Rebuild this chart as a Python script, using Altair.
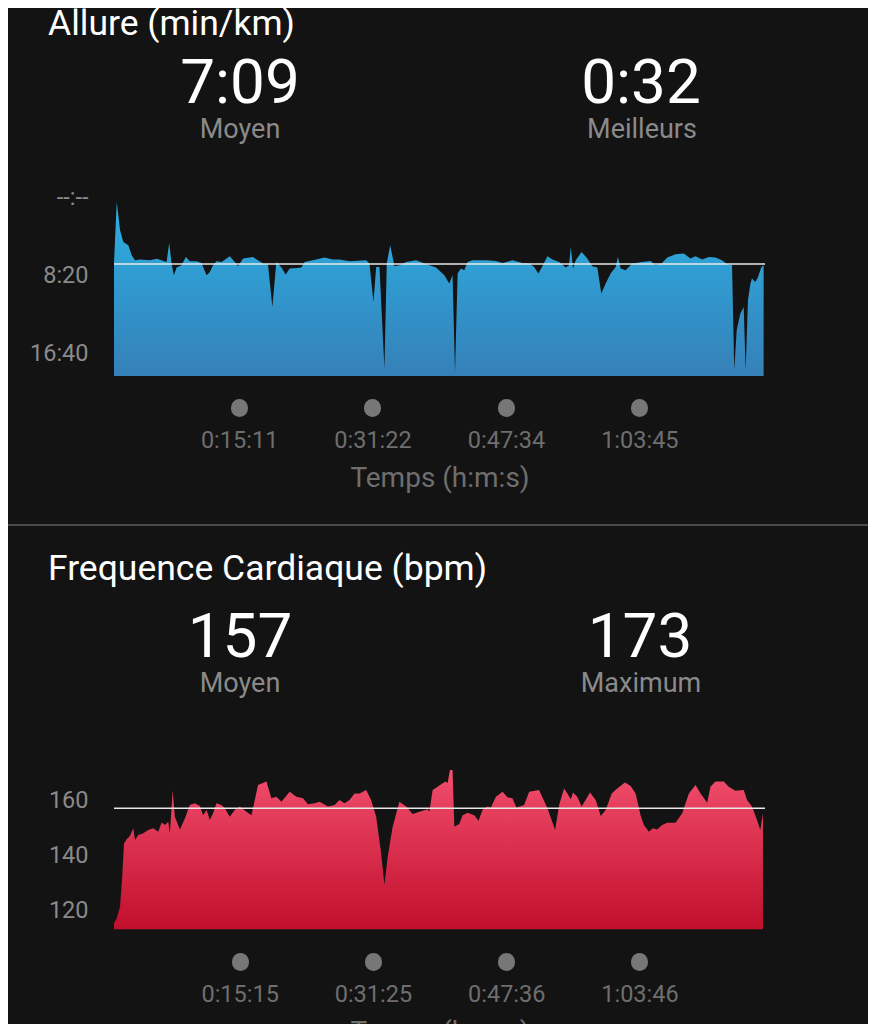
import altair as alt
import pandas as pd

# ---------------- data ----------------
pace_time_s = [0, 20, 44, 68, 104, 129, 153, 189, 262, 312,
               383, 402, 419, 436, 456, 492, 523, 552, 601, 637,
               674, 698, 721, 746, 783, 843, 879, 903, 940, 1012,
               1048, 1085, 1121, 1153, 1182, 1219, 1250, 1279, 1328, 1364,
               1388, 1448, 1533, 1593, 1642, 1715, 1836, 1860, 1889, 1909,
               1933, 1969, 1986, 2011, 2042, 2078, 2127, 2199, 2296, 2345,
               2405, 2441, 2465, 2483, 2502, 2526, 2550, 2574, 2611, 2708,
               2781, 2829, 2901, 2974, 3023, 3059, 3090, 3119, 3156, 3192,
               3241, 3289, 3313, 3326, 3342, 3362, 3405, 3446, 3483, 3519,
               3548, 3580, 3616, 3653, 3669, 3689, 3725, 3773, 3846, 3907,
               3943, 3991, 4028, 4089, 4149, 4198, 4234, 4282, 4331, 4379,
               4427, 4464, 4500, 4516, 4534, 4561, 4585, 4599, 4616, 4634,
               4645, 4670, 4689, 4713, 4730]
pace_s_per_km = [420, 32, 213, 288, 309, 373, 405, 400, 405, 395,
                 416, 294, 424, 501, 452, 437, 384, 411, 411, 422,
                 501, 480, 437, 411, 416, 379, 416, 443, 394, 384,
                 405, 426, 431, 704, 416, 452, 496, 458, 454, 452,
                 416, 405, 388, 400, 400, 411, 405, 426, 672, 448,
                 448, 1098, 426, 309, 443, 437, 416, 405, 437, 452,
                 501, 554, 501, 1120, 490, 458, 469, 416, 405, 405,
                 409, 422, 405, 422, 426, 448, 490, 443, 379, 400,
                 416, 452, 437, 320, 458, 405, 352, 394, 443, 452,
                 618, 554, 490, 448, 384, 458, 469, 426, 416, 409,
                 437, 422, 388, 366, 362, 394, 379, 400, 384, 388,
                 405, 431, 437, 1109, 853, 744, 704, 1109, 661, 554,
                 522, 544, 512, 450, 437]

hr_time_s = [0, 20, 44, 60, 73, 92, 116, 140, 153, 177,
             213, 249, 286, 322, 347, 371, 395, 407, 427, 443,
             480, 516, 552, 589, 625, 649, 674, 698, 721, 746,
             783, 807, 843, 879, 916, 964, 1001, 1025, 1049, 1110,
             1146, 1182, 1219, 1279, 1328, 1376, 1412, 1461, 1497, 1558,
             1606, 1642, 1679, 1715, 1751, 1788, 1836, 1872, 1909, 1945,
             1969, 1993, 2029, 2078, 2127, 2175, 2223, 2284, 2296, 2320,
             2356, 2393, 2417, 2429, 2446, 2465, 2478, 2514, 2538, 2574,
             2623, 2654, 2683, 2720, 2744, 2781, 2829, 2865, 2901, 2930,
             2986, 3023, 3095, 3156, 3212, 3241, 3277, 3301, 3326, 3342,
             3373, 3405, 3466, 3507, 3544, 3580, 3624, 3664, 3720, 3762,
             3798, 3834, 3858, 3895, 3924, 3955, 3991, 4028, 4089, 4137,
             4186, 4234, 4271, 4319, 4343, 4379, 4440, 4476, 4525, 4585,
             4609, 4645, 4682, 4706, 4725]
hr_bpm = [115.2, 117, 121.2, 132.1, 144.2, 145.7, 146.9, 149.7, 145.5, 147.3,
          147.9, 149.1, 149.7, 148.5, 151.8, 150.9, 152.1, 147.9, 163.4, 153.9,
          149.3, 153.3, 158.2, 158.8, 157.8, 154.5, 156.4, 152.7, 155.2, 158.8,
          158.2, 157, 153.9, 156.4, 157.6, 155.7, 154.5, 160, 165.5, 166.7,
          160.6, 161.2, 159.4, 163, 161.2, 160.6, 158.5, 158.8, 159.4, 157.6,
          158.2, 160, 158.8, 160, 162.4, 162.4, 163.6, 160, 153.9, 140.6,
          129.1, 139.4, 150.3, 159.4, 157.6, 154.9, 155.7, 156.6, 155.7, 163.6,
          164.8, 166.1, 166.7, 166.1, 170.9, 170.9, 150.3, 151.3, 154.5, 155.4,
          154.5, 152.5, 156.4, 157.6, 157.3, 161.2, 163, 161, 160.6, 157.3,
          158.2, 163, 163.6, 157, 149.1, 158.2, 164.2, 162.4, 160.3, 162.7,
          161.2, 157.6, 162.7, 160, 154.2, 156.4, 162.4, 164.2, 166.4, 165.1,
          162.4, 154.5, 150.9, 148.5, 149.7, 149.3, 150.9, 151.7, 151.7, 155.2,
          162.4, 165.5, 162.4, 159, 164.8, 166.7, 166.7, 164.8, 163.4, 163.6,
          160, 157.6, 152.7, 149.1, 155.2]

pace_avg_s = 429          # 7:09
hr_avg_bpm = 157
duration_s = 4740
pace_floor_s = 1146
hr_floor_bpm = 113
hr_ceiling_bpm = 180

pace_y_ticks = [0, 500, 1000]
pace_y_labels = ["--:--", "8:20", "16:40"]
hr_y_ticks = [120, 140, 160]
hr_y_labels = ["120", "140", "160"]
pace_x_ticks = [911, 1882, 2854, 3825]
pace_x_labels = ["0:15:11", "0:31:22", "0:47:34", "1:03:45"]
hr_x_ticks = [915, 1885, 2856, 3826]
hr_x_labels = ["0:15:15", "0:31:25", "0:47:36", "1:03:46"]

section_titles = ["Allure (min/km)", "Frequence Cardiaque (bpm)"]
stat_values = ["7:09", "0:32", "157", "173"]
stat_names = ["Moyen", "Meilleurs", "Moyen", "Maximum"]
x_axis_title = "Temps (h:m:s)"

# ---------------- layout / style ----------------
W, H = 860, 1030
PLOT_L, PLOT_R = 106, 757
BG = "#131313"
FONT = "Roboto"
YLAB = "#8A8A8A"
XLAB = "#6E6E6E"
DOT = "#777777"
SUB = "#8A8A8A"


def label_expr(values, labels):
    expr = f"'{labels[-1]}'"
    for v, l in reversed(list(zip(values[:-1], labels[:-1]))):
        expr = f"datum.value == {v} ? '{l}' : " + expr
    return expr


def y_axis(values, labels):
    return alt.Axis(orient="left", offset=-PLOT_L, values=values,
                    labelExpr=label_expr(values, labels), ticks=False,
                    domain=False, grid=False, labelPadding=26,
                    labelFontSize=23.5, labelColor=YLAB, labelFont=FONT,
                    labelFlush=False, labelBaseline="middle", title=None)


def x_axis(values, labels, axis_y):
    return alt.Axis(orient="bottom", offset=axis_y - H, values=values,
                    labelExpr=label_expr(values, labels), domain=False,
                    grid=False, ticks=True, tickCap="round", tickWidth=17,
                    tickSize=1, tickColor=DOT, labelPadding=20,
                    labelFontSize=23.5, labelColor=XLAB, labelFont=FONT,
                    labelFlush=False, title=x_axis_title, titleFontSize=28,
                    titleColor=XLAB, titleFont=FONT, titleFontWeight="normal",
                    titleBaseline="alphabetic", titleY=79)


# ---------------- pace panel ----------------
pace_df = pd.DataFrame({"t": pace_time_s, "pace": pace_s_per_km})
pace_x_scale = alt.Scale(domain=[0, duration_s], range=[PLOT_L, PLOT_R], nice=False, zero=False)
pace_y_scale = alt.Scale(domain=[0, pace_floor_s], range=[189, 368], nice=False, zero=False)

pace_grad = alt.Gradient(gradient="linear",
                         stops=[alt.GradientStop(color="#2CB0E3", offset=0),
                                alt.GradientStop(color="#3580B8", offset=1)],
                         x1=0, x2=0, y1=0, y2=1)

pace_area = alt.Chart(pace_df).mark_area(color=pace_grad).encode(
    x=alt.X("t:Q", scale=pace_x_scale, axis=x_axis(pace_x_ticks, pace_x_labels, 399)),
    y=alt.Y("pace:Q", scale=pace_y_scale, axis=y_axis(pace_y_ticks, pace_y_labels)),
    y2=alt.datum(pace_floor_s),
)
pace_rule = alt.Chart(pd.DataFrame({"pace": [pace_avg_s]})).mark_rule(
    color="#E8E8E8", strokeWidth=1.5).encode(
    x=alt.datum(0), x2=alt.datum(duration_s), y=alt.Y("pace:Q"))
pace_panel = alt.layer(pace_area, pace_rule)

# ---------------- heart-rate panel ----------------
hr_df = pd.DataFrame({"t": hr_time_s, "bpm": hr_bpm})
hr_x_scale = alt.Scale(domain=[0, duration_s], range=[PLOT_L, PLOT_R], nice=False, zero=False)
hr_y_scale = alt.Scale(domain=[hr_floor_bpm, hr_ceiling_bpm], range=[921.3, 737], nice=False, zero=False)

hr_grad = alt.Gradient(gradient="linear",
                       stops=[alt.GradientStop(color="#F24E6E", offset=0),
                              alt.GradientStop(color="#C10F2C", offset=1)],
                       x1=0, x2=0, y1=0, y2=1)

hr_area = alt.Chart(hr_df).mark_area(color=hr_grad).encode(
    x=alt.X("t:Q", scale=hr_x_scale, axis=x_axis(hr_x_ticks, hr_x_labels, 953)),
    y=alt.Y("bpm:Q", scale=hr_y_scale, axis=y_axis(hr_y_ticks, hr_y_labels)),
    y2=alt.datum(hr_floor_bpm),
)
hr_rule = alt.Chart(pd.DataFrame({"bpm": [hr_avg_bpm]})).mark_rule(
    color="#E8E8E8", strokeWidth=1.5).encode(
    x=alt.datum(0), x2=alt.datum(duration_s), y=alt.Y("bpm:Q"))
hr_panel = alt.layer(hr_area, hr_rule)


# ---------------- texts ----------------
def text_layer(label, x, y, size, color, align="center"):
    return alt.Chart(pd.DataFrame({"label": [label]})).mark_text(
        align=align, baseline="alphabetic", fontSize=size, color=color,
        font=FONT).encode(text="label:N", x=alt.value(x), y=alt.value(y))


texts = [
    text_layer(section_titles[0], 40, 27, 35.5, "#FFFFFF", "left"),
    text_layer(stat_values[0], 232, 95, 62, "#FFFFFF"),
    text_layer(stat_names[0], 232, 130, 27, SUB),
    text_layer(stat_values[1], 633, 95, 62, "#FFFFFF"),
    text_layer(stat_names[1], 634, 130, 27, SUB),
    text_layer(section_titles[1], 40, 572, 35.5, "#FFFFFF", "left"),
    text_layer(stat_values[2], 232, 649, 62, "#FFFFFF"),
    text_layer(stat_names[2], 232, 684, 27, SUB),
    text_layer(stat_values[3], 632, 649, 62, "#FFFFFF"),
    text_layer(stat_names[3], 633, 684, 27, SUB),
]

one = pd.DataFrame({"k": [0]})
separator = alt.Chart(one).mark_rule(color="#4A4A4A", strokeWidth=2).encode(
    x=alt.value(0), x2=alt.value(W), y=alt.value(517))

chart = alt.layer(pace_panel, hr_panel, *texts, separator).resolve_scale(
    x="independent", y="independent"
).properties(
    width=W, height=H, autosize=alt.AutoSizeParams(type="none"), padding=0,
    background=BG,
).configure(font=FONT).configure_view(stroke=None)

chart.save("out.html", embed_options={"renderer": "svg", "actions": False})
